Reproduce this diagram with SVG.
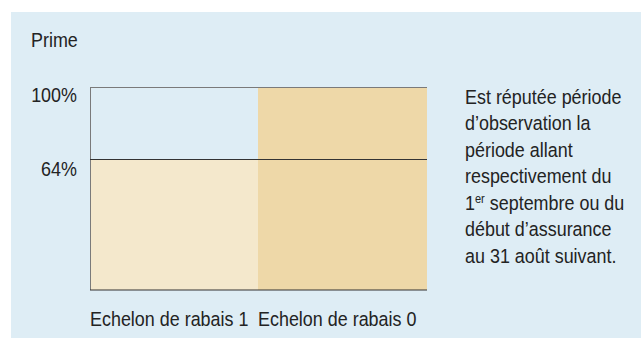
<svg xmlns="http://www.w3.org/2000/svg" width="641" height="338" viewBox="0 0 641 338">
<style>
text{font-family:"Liberation Sans",Arial,sans-serif;font-size:19.5px;fill:#232323}
.end{text-anchor:end}
</style>
<rect x="0" y="0" width="641" height="338" fill="#ffffff"/>
<rect id="panel" x="11" y="12" width="630" height="326" fill="#deedf5"/>
<g id="chart">
<rect id="cell-top-right" x="258" y="87" width="169" height="72" fill="#eed8a8"/>
<rect id="cell-bottom-left" x="90" y="159" width="168" height="131" fill="#f4e8cc"/>
<rect id="cell-bottom-right" x="258" y="159" width="169" height="131" fill="#eed8a8"/>
</g>
<g id="connectors">
<line x1="90" y1="87.5" x2="427" y2="87.5" stroke="#7a7a7a" stroke-width="1"/>
<line x1="90.5" y1="87" x2="90.5" y2="290" stroke="#7a7a7a" stroke-width="1"/>
<line x1="90" y1="159.5" x2="427" y2="159.5" stroke="#333333" stroke-width="1.2"/>
<line x1="90" y1="290" x2="427" y2="290" stroke="#333333" stroke-width="1.2"/>
</g>
<g id="labels">
<text transform="translate(31 47) scale(0.92 1)">Prime</text>
<text class="end" transform="translate(77 101.5) scale(0.92 1)">100%</text>
<text class="end" transform="translate(77 175.5) scale(0.92 1)">64%</text>
<text transform="translate(90 326) scale(0.92 1)">Echelon de rabais 1</text>
<text transform="translate(258 326) scale(0.92 1)">Echelon de rabais 0</text>
</g>
<g id="note">
<text transform="translate(465 103.5) scale(0.92 1)">Est réputée période</text>
<text transform="translate(465 130) scale(0.92 1)">d’observation la</text>
<text transform="translate(465 156.5) scale(0.92 1)">période allant</text>
<text transform="translate(465 183) scale(0.92 1)">respectivement du</text>
<text transform="translate(465 209.5) scale(0.92 1)">1<tspan font-size="12" dy="-6.5">er</tspan><tspan dy="6.5"> septembre ou du</tspan></text>
<text transform="translate(465 236) scale(0.92 1)">début d’assurance</text>
<text transform="translate(465 262.5) scale(0.92 1)">au 31 août suivant.</text>
</g>
</svg>
